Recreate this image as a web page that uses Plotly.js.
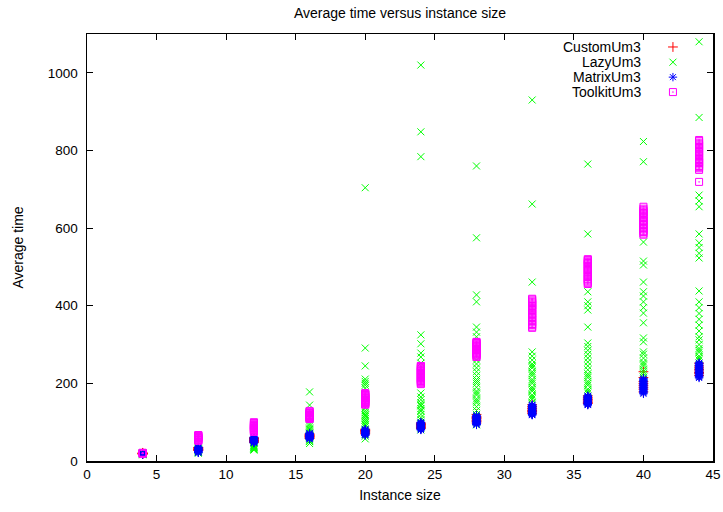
<!DOCTYPE html>
<html>
<head>
<meta charset="utf-8">
<script src="https://cdn.plot.ly/plotly-3.0.1.min.js"></script>
<style>html,body{margin:0;padding:0;background:#fff;}#chart{width:723px;height:512px;}</style>
</head>
<body>
<div id="chart"></div>
<script>
const sizes = [4, 8, 12, 16, 20, 24, 28, 32, 36, 40, 44];
const seriesNames = ["CustomUm3", "LazyUm3", "MatrixUm3", "ToolkitUm3"];

const customUm3 = [
  [18,19,20,19,18,20,21,19],
  [28,30,33,35,31,29,27,34],
  [48,52,55,58,60,50,53,57],
  [58,62,65,68,63,60,66,70],
  [70,74,78,80,76,72,82,79],
  [84,88,92,96,90,86,98,94],
  [98,104,110,115,120,108,112,102],
  [122,128,134,140,145,130,136,126],
  [148,152,158,164,168,155,160,150],
  [178,185,195,205,215,230,200,190],
  [220,228,236,245,252,232,240,225]
];
const lazyUm3 = [
  [16,17,18,19,20,21,17,18],
  [20,22,25,28,30,33,35,24,27,31],
  [28,30,32,34,36,38,40,42,45,31,35,39],
  [45,50,55,60,65,70,75,80,85,90,95,144,178,52,62,72,82],
  [57,64,70,80,88,95,100,105,110,115,120,125,130,137,188,195,200,205,211,245,291,704,92,118],
  [80,85,95,106,112,120,128,135,142,150,158,165,175,252,268,278,302,325,784,848,1020,100,130,145],
  [93,100,110,120,130,140,150,160,170,180,190,200,210,220,230,240,250,260,320,332,345,410,428,575,760,155,175,205],
  [150,160,170,180,190,200,210,220,230,240,250,260,270,281,461,662,930,165,185,205,225,245],
  [175,185,195,205,215,225,235,245,255,265,275,285,295,304,345,389,400,410,436,585,765,180,200,220],
  [216,225,235,245,255,265,275,281,307,317,356,381,395,410,425,436,461,505,515,564,771,823,230,250],
  [260,270,280,290,300,312,320,335,350,365,380,395,410,438,523,535,550,562,585,655,670,685,885,1080,265,285]
];
const matrixUm3 = [
  [17,18,19,20,18,19,17,20,18,19],
  [21,23,25,27,29,31,33,35,36,24,28,32,22,26,30,34],
  [46,48,50,52,54,56,58,60,62,49,53,57,47,51,55,59,61],
  [56,58,60,62,64,66,68,70,72,57,61,65,69,59,63,67,71],
  [66,68,70,72,74,76,78,80,82,67,71,75,79,81,69,73,77],
  [80,82,84,86,88,90,92,94,96,98,100,85,89,93,81,83,87,91,95,97,99],
  [93,96,99,102,105,108,111,114,117,118,95,101,107,113,94,97,100,103,106,109,112,115],
  [118,120,123,126,129,132,135,138,141,144,145,121,127,133,139,119,122,125,128,131,134,137,140,143],
  [144,146,149,152,155,158,161,164,167,168,147,153,159,165,145,148,151,154,157,160,163,166],
  [173,177,181,185,189,193,197,201,205,209,213,175,183,191,199,207,179,187,195,203,211],
  [214,218,222,226,230,234,238,242,246,250,253,216,224,232,240,248,220,228,236,244,252]
];
const toolkitUm3 = [
  [19,20,21,20,19,21],
  [52,55,58,61,64,67,54,60,66,53,56,59,62,65],
  [75,78,81,84,87,90,93,96,100,80,88,76,79,82,85,91,94,98],
  [108,110,113,116,119,122,125,129,112,118,124,109,111,114,117,120,123,127],
  [145,148,151,154,157,160,163,166,169,172,175,150,162,146,149,152,155,158,164,167,170,173],
  [198,202,206,210,214,218,222,226,230,234,238,242,245,208,224,200,204,212,216,220,228,232,236,240,244],
  [268,272,276,280,284,288,292,296,300,304,307,274,286,298,270,278,282,290,294,302,306],
  [343,350,357,364,371,378,385,392,399,406,413,418,360,380,400,346,353,368,375,389,395,403,409,416],
  [456,462,468,474,480,486,492,498,504,510,516,520,470,490,459,465,477,483,495,501,507,513,518],
  [583,590,597,604,611,618,625,632,639,646,655,600,620,640,586,593,608,615,628,635,643,650],
  [719,750,757,764,771,778,785,792,799,806,813,820,827,770,790,810,754,760,768,775,782,796,803,816,824]
];

const xTicks = [0,5,10,15,20,25,30,35,40,45];
const yTicks = [0,200,400,600,800,1000];

const colors = ["#ff0000", "#00ff00", "#0000ff", "#ff00ff"];
const symbols = ["cross-thin-open", "x-thin-open", "asterisk-open", "square-open-dot"];
const allData = [customUm3, lazyUm3, matrixUm3, toolkitUm3];

function flatten(groups) {
  const xs = [], ys = [];
  groups.forEach((vals, i) => vals.forEach(v => { xs.push(sizes[i]); ys.push(v); }));
  return {xs, ys};
}

const font = "Liberation Sans, Arial, Helvetica, sans-serif";
const traces = [];
allData.forEach((d, k) => {
  const f = flatten(d);
  traces.push({
    type: "scatter", mode: "markers", name: seriesNames[k],
    x: f.xs, y: f.ys, showlegend: false,
    marker: {symbol: symbols[k], size: 7, color: colors[k], line: {color: colors[k], width: 1}}
  });
});

// gnuplot-style key: text right-aligned, sample on the right
const keyX = 0.936, keyTextX = 0.888;
const keyY = [0.9696, 0.934, 0.899, 0.864];
const annotations = [];
seriesNames.forEach((n, k) => {
  traces.push({
    type: "scatter", mode: "markers", xaxis: "x2", yaxis: "y2", showlegend: false,
    x: [keyX], y: [keyY[k]], hoverinfo: "skip",
    marker: {symbol: symbols[k], size: 7, color: colors[k], line: {color: colors[k], width: 1}}
  });
  annotations.push({
    xref: "paper", yref: "paper", x: keyTextX, y: keyY[k], xanchor: "right", yanchor: "middle",
    text: n, showarrow: false, font: {family: font, size: 14, color: "#000"}
  });
});

const layout = {
  width: 723, height: 512,
  margin: {l: 87, r: 10, t: 34, b: 51},
  paper_bgcolor: "#fff", plot_bgcolor: "#fff",
  font: {family: font, size: 13.5, color: "#000"},
  showlegend: false,
  title: {text: "Average time versus instance size", x: 0.5, xref: "paper", y: 1 - 13/512, yref: "container", yanchor: "middle", font: {family: font, size: 14}},
  xaxis: {
    range: [0, 45], tickvals: xTicks, ticks: "inside", ticklen: 6, tickcolor: "#000",
    showline: true, linecolor: "#000", linewidth: 1.5, mirror: "ticks", showgrid: false, zeroline: false,
    tickfont: {size: 13.5},
    title: {text: "Instance size", standoff: 9, font: {family: font, size: 14}}
  },
  yaxis: {
    range: [0, 1100], tickvals: yTicks, ticks: "inside", ticklen: 6, tickcolor: "#000",
    showline: true, linecolor: "#000", linewidth: 1.5, mirror: "ticks", showgrid: false, zeroline: false,
    tickfont: {size: 13.5}, ticklabelstandoff: 5,
    title: {text: "Average time", standoff: 21, font: {family: font, size: 14}}
  },
  xaxis2: {overlaying: "x", range: [0, 1], visible: false},
  yaxis2: {overlaying: "y", range: [0, 1], visible: false},
  annotations: annotations
};

Plotly.newPlot("chart", traces, layout, {displayModeBar: false, staticPlot: true});
</script>
</body>
</html>
